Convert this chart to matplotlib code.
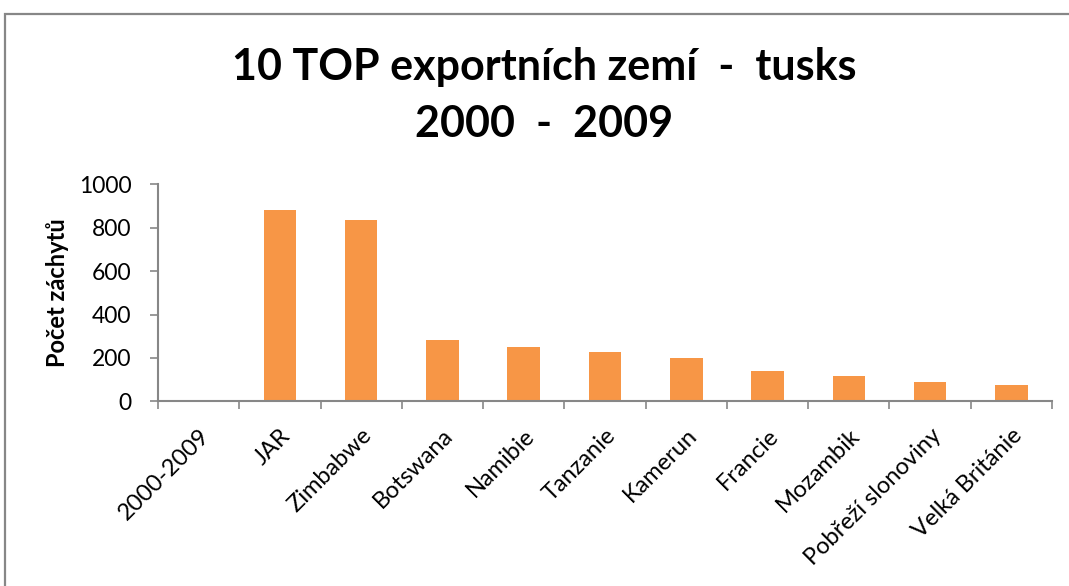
import matplotlib
matplotlib.use("Agg")
import matplotlib.pyplot as plt
import numpy as np
from matplotlib.patches import Rectangle

categories = ["2000-2009", "JAR", "Zimbabwe", "Botswana", "Namibie", "Tanzanie",
              "Kamerun", "Francie", "Mozambik", "Pobřeží slonoviny", "Velká Británie"]
values = [0, 883, 835, 281, 249, 226, 200, 138, 115, 89, 75]
yticks = [0, 200, 400, 600, 800, 1000]
title_lines = ["10 TOP exportních zemí  -  tusks", "2000  -  2009"]

plt.rcParams['font.family'] = ['Lato', 'DejaVu Sans']

W, H = 1069, 586
fig = plt.figure(figsize=(W / 100, H / 100), dpi=100)
fig.patch.set_facecolor('white')
# outer chart frame
fig.patches.append(Rectangle((5 / W, -0.05), 1.1, 1 - 14 / H + 0.05, transform=fig.transFigure,
                             fill=False, edgecolor='#878787', linewidth=1.6))

ax = fig.add_axes([158 / W, 1 - 401.3 / H, (1052 - 158) / W, (401.3 - 184.3) / H])
x = np.arange(len(categories))
ax.bar(x, values, width=0.4, color='#F79646')

ax.set_xlim(-0.5, len(categories) - 0.5)
ax.set_ylim(0, 1000)
ax.set_yticks(yticks)
ax.set_yticklabels([str(v) for v in yticks], fontsize=16.5)

ax.set_xticks(x)
ax.set_xticklabels(categories, rotation=45, ha='right', rotation_mode='anchor', fontsize=17)
ax.tick_params(axis='x', which='major', length=0, pad=17)
ax.set_xticks(np.arange(-0.5, len(categories)), minor=True)
ax.tick_params(axis='x', which='minor', length=6, width=1.2, color='#878787', direction='out')
ax.tick_params(axis='y', length=6, width=1.2, color='#878787', direction='out', pad=13)

for s in ['top', 'right']:
    ax.spines[s].set_visible(False)
for s in ['left', 'bottom']:
    ax.spines[s].set_color('#878787')
    ax.spines[s].set_linewidth(1.5)

ax.set_ylabel("Počet záchytů", fontsize=17, fontweight='bold', labelpad=7)

fig.text(544 / W, 1 - 80 / H, title_lines[0], ha='center', va='baseline',
         fontsize=31, fontweight='bold')
fig.text(544 / W, 1 - 137 / H, title_lines[1], ha='center', va='baseline',
         fontsize=31, fontweight='bold')

fig.savefig("out.png", dpi=100)
